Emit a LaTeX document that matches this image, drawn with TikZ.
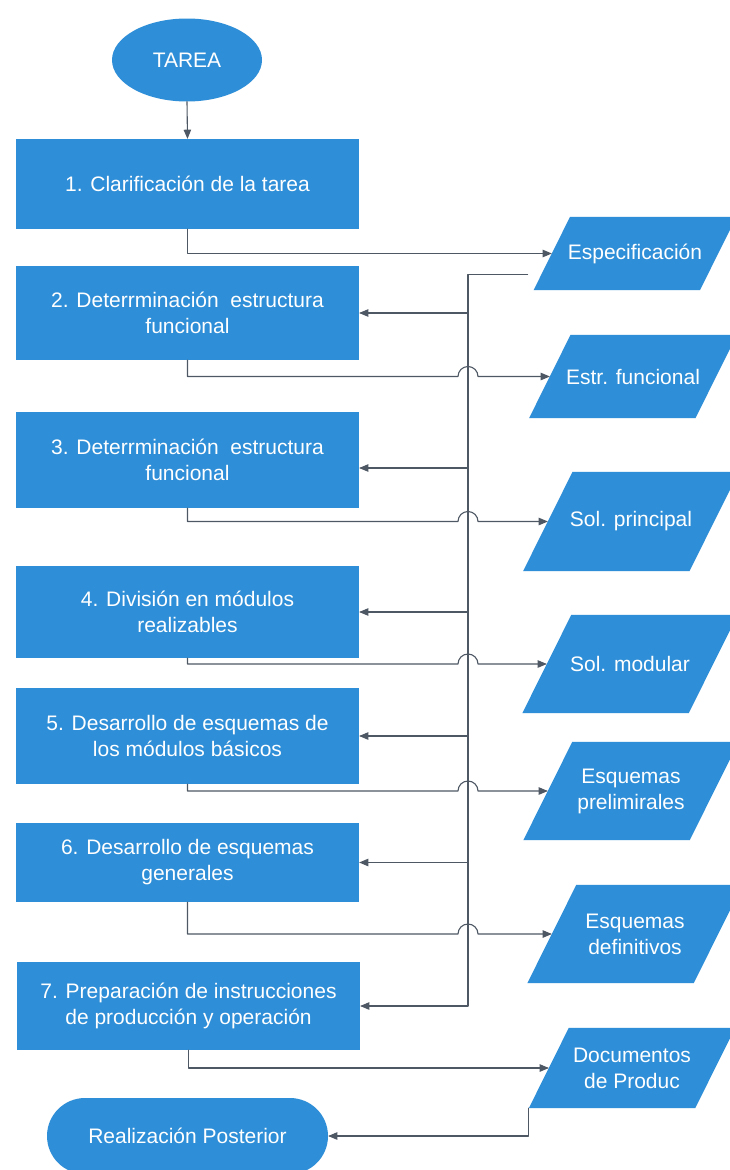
\documentclass[tikz,border=0pt]{standalone}
\usepackage{fontspec}
\setmainfont{Liberation Sans}
\usepackage{tikz}
\usetikzlibrary{arrows}
\usetikzlibrary{shapes.geometric}
\usetikzlibrary{backgrounds}
\definecolor{azul}{RGB}{46,142,215}
\definecolor{linea}{RGB}{78,88,100}
\tikzset{
  bloque/.style={fill=azul,text=white,align=center,font=\fontsize{21}{26}\selectfont},
  proceso/.style={bloque,minimum width=343pt},
  datos/.style={bloque,fill=none,minimum width=166pt,inner sep=0pt},
  flujo/.style={color=linea,line width=1.1pt}
}
\begin{document}
\begin{tikzpicture}[line cap=round,line join=round,>=triangle 45,x=1pt,y=1pt]
      \useasboundingbox (0,0) rectangle (729,-1170);
      \node[bloque,ellipse,minimum width=150pt,minimum height=83pt] (tarea) at (187,-60) {TAREA};
      \node[proceso,minimum height=90pt] (b1) at (187.5,-184) {1. Clarificación de la tarea};
      \node[proceso,minimum height=94pt] (b2) at (187.5,-313) {2. Deterrminación\ \ estructura\\funcional};
      \node[proceso,minimum height=96pt] (b3) at (187.5,-460) {3. Deterrminación\ \ estructura\\funcional};
      \node[proceso,minimum height=92pt] (b4) at (187.5,-612) {4. División en módulos\\realizables};
      \node[proceso,minimum height=96pt] (b5) at (187.5,-736) {5. Desarrollo de esquemas de\\los módulos básicos};
      \node[proceso,minimum height=79pt] (b6) at (187.5,-862.5) {6. Desarrollo de esquemas\\generales};
      \node[proceso,minimum height=88pt] (b7) at (188.5,-1006) {7. Preparación de instrucciones\\de producción y operación};
      \node[bloque,rounded corners=38pt,minimum width=281pt,minimum height=76pt] (fin) at (187.5,-1136) {Realización Posterior};
      \node[datos,minimum height=73pt] (espec) at (635,-253.5) {Especificación};
      \node[datos,minimum height=83pt] (estr) at (633,-376.5) {Estr. funcional};
      \node[datos,minimum height=99pt] (solp) at (631,-521.5) {Sol. principal};
      \node[datos,minimum height=98pt] (solm) at (630,-664) {Sol. modular};
      \node[datos,minimum height=98pt] (esqp) at (631,-791) {Esquemas\\prelimirales};
      \node[datos,minimum height=98pt] (esqd) at (635,-934) {Esquemas\\definitivos};
      \node[datos,minimum height=80pt] (docs) at (632,-1068) {Documentos\\de Produc};
      \begin{scope}[on background layer]
      \fill[white] (0,0) rectangle (729,-1170);
      \foreach \d/\s in {espec/18.25,estr/20.75,solp/24.75,solm/24.5,esqp/24.5,esqd/24.5,docs/20}
      \fill[azul] ([xshift=-\s pt]\d.south west) -- ([xshift=-\s pt]\d.south east) -- ([xshift=\s pt]\d.north east) -- ([xshift=\s pt]\d.north west) -- cycle;
      \end{scope}
      \draw[flujo,->] (tarea.south) -- (b1.north);
      \draw[flujo,->] (b1.south) |- (espec.west);
      \coordinate (fb) at ([shift={(-24.25,16)}]espec.south west);
      \coordinate (vl) at (fb -| 468,0);
      \draw[flujo,->] (fb) -- (vl) |- (b7.east);
      \foreach \b in {b2,b4,b5,b6}
      \draw[flujo,->] (vl |- \b.east) -- (\b.east);
      \coordinate (e3) at ([yshift=-8pt]b3.east);
      \draw[flujo,->] (vl |- e3) -- (e3);
      \foreach \b/\d in {b2/estr,b3/solp,b4/solm,b5/esqp,b6/esqd}{
      \coordinate (h) at (vl |- \d.west);
      \draw[flujo,->] (\b.south) |- ([xshift=-10pt]h) arc[start angle=180,end angle=0,radius=10pt] -- (\d.west);
      }
      \draw[flujo,->] (b7.south) |- (docs.west);
      \draw[flujo,->] ([xshift=-20pt]docs.south west) |- (fin.east);
    \end{tikzpicture}
\end{document}
